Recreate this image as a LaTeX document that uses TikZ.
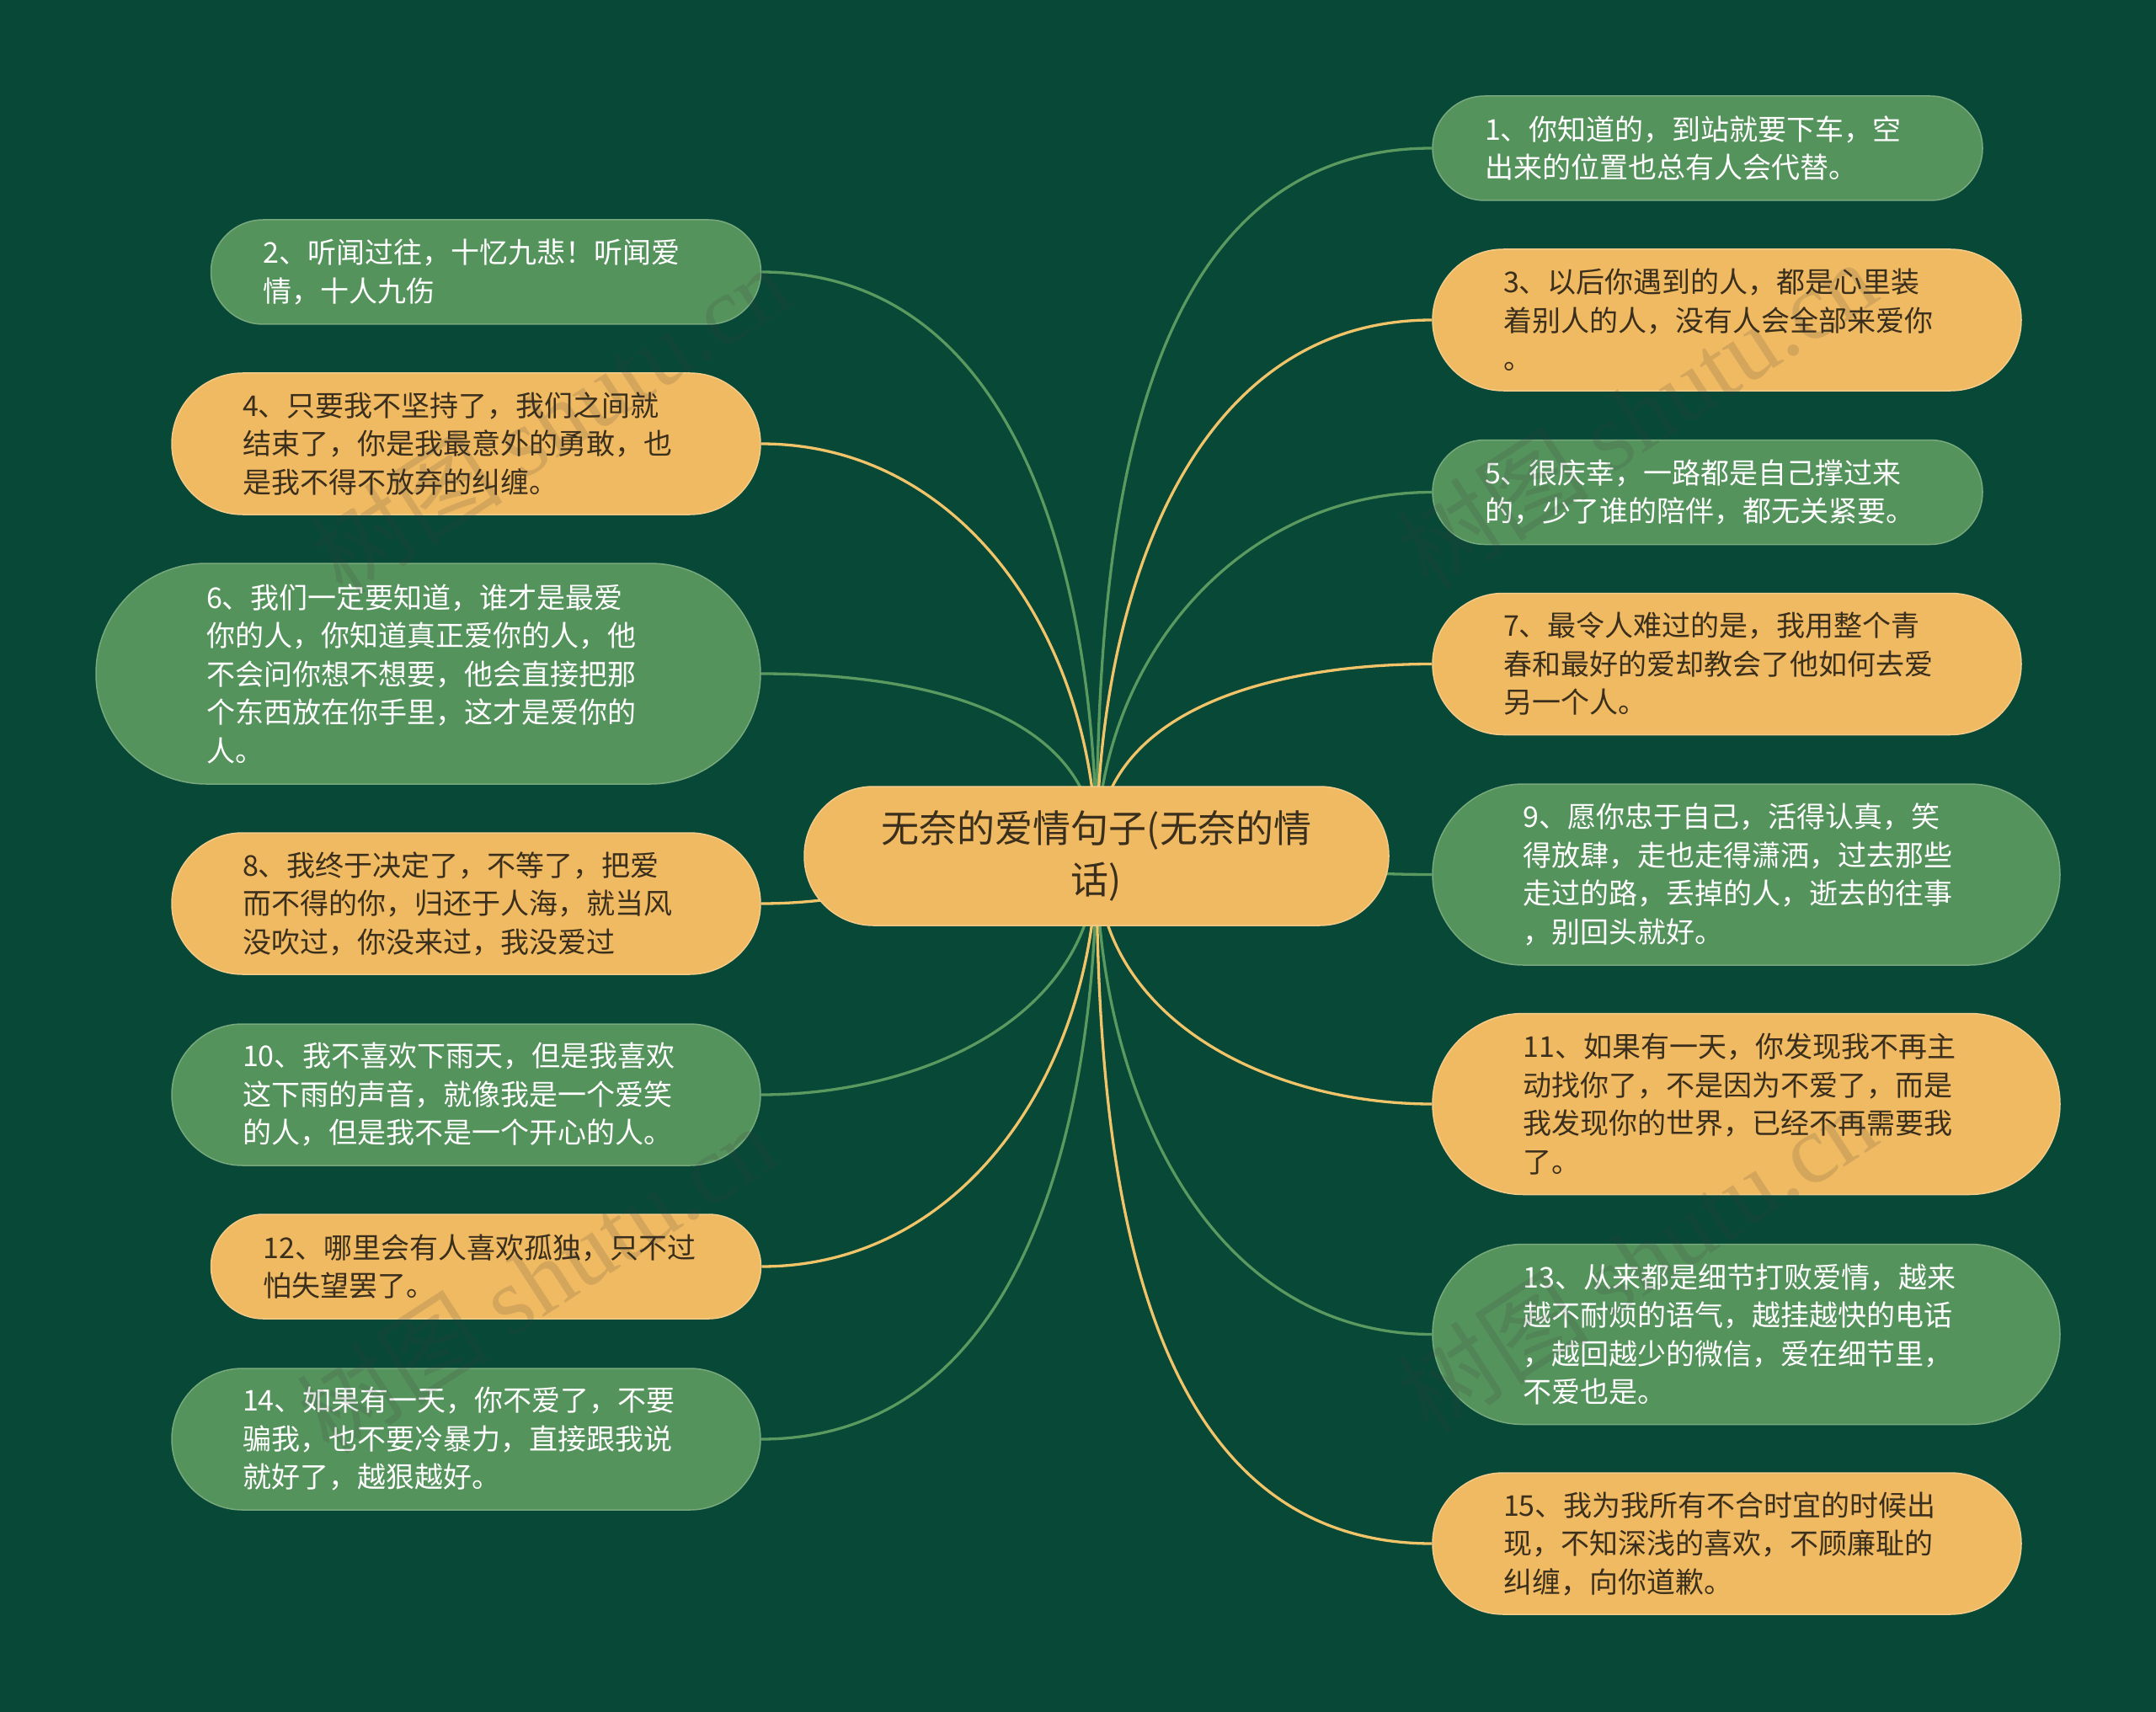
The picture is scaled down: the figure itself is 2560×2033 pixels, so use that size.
\documentclass[tikz,border=0pt]{standalone}
\usepackage{fontspec}
\setmainfont{Noto Sans CJK SC}
\newfontfamily\wmfont{Liberation Serif}
\usetikzlibrary{backgrounds}
\definecolor{bgc}{HTML}{074836}
\definecolor{gnode}{HTML}{55935C}
\definecolor{ynode}{HTML}{F0BA62}
\definecolor{gedge}{HTML}{5A9A60}
\definecolor{yedge}{HTML}{F2C46A}
\definecolor{ytext}{HTML}{3A2E1C}
\begin{document}
\begin{tikzpicture}[x=1pt,y=-1pt,
  box/.style={rectangle, align=left, inner sep=0pt, font=\fontsize{34}{45.5}\selectfont},
  pill/.style n args={4}{minimum width=#1pt, minimum height=#2pt, text width=#3pt, rounded corners=#4pt},
  gbox/.style={box, fill=gnode, draw=gnode!80!white, line width=1.5pt, text=white},
  ybox/.style={box, fill=ynode, draw=ynode!75!white, line width=1.5pt, text=ytext},
  cbox/.style={rectangle, align=center, inner sep=0pt, fill=ynode, draw=ynode!75!white, line width=1.5pt, text=ytext, font=\fontsize{45}{61}\selectfont},
  gl/.style={draw=gedge, line width=3.3pt},
  yl/.style={draw=yedge, line width=3.3pt},
  wm/.style={text=black!75, opacity=0.16, font=\fontsize{115}{115}\selectfont, rotate=33, inner sep=0pt},
]
\useasboundingbox (0,0) rectangle (2560,2033);

% central node
\node[cbox, pill={694}{165}{600}{82}] (c) at (1302,1016.5) {无奈的爱情句子(无奈的情\\话)};

% right side
\node[gbox, pill={653}{124}{529}{62}] (n1) at (2027.5,176) {1、你知道的，到站就要下车，空\\出来的位置也总有人会代替。};
\node[ybox, pill={699}{168}{531}{84}] (n3) at (2050.5,380) {3、以后你遇到的人，都是心里装\\着别人的人，没有人会全部来爱你\\。};
\node[gbox, pill={653}{124}{529}{62}] (n5) at (2027.5,584.5) {5、很庆幸，一路都是自己撑过来\\的，少了谁的陪伴，都无关紧要。};
\node[ybox, pill={699}{168}{531}{84}] (n7) at (2050.5,788.5) {7、最令人难过的是，我用整个青\\春和最好的爱却教会了他如何去爱\\另一个人。};
\node[gbox, pill={745}{215}{530}{107.5}] (n9) at (2073.5,1038.5) {9、愿你忠于自己，活得认真，笑\\得放肆，走也走得潇洒，过去那些\\走过的路，丢掉的人，逝去的往事\\，别回头就好。};
\node[ybox, pill={745}{215}{530}{107.5}] (n11) at (2073.5,1311) {11、如果有一天，你发现我不再主\\动找你了，不是因为不爱了，而是\\我发现你的世界，已经不再需要我\\了。};
\node[gbox, pill={745}{214}{530}{107}] (n13) at (2073.5,1584.5) {13、从来都是细节打败爱情，越来\\越不耐烦的语气，越挂越快的电话\\，越回越少的微信，爱在细节里，\\不爱也是。};
\node[ybox, pill={699}{168}{531}{84}] (n15) at (2050.5,1833) {15、我为我所有不合时宜的时候出\\现，不知深浅的喜欢，不顾廉耻的\\纠缠，向你道歉。};

% left side
\node[gbox, pill={653}{124}{529}{62}] (n2) at (577,323) {2、听闻过往，十忆九悲！听闻爱\\情，十人九伤};
\node[ybox, pill={699}{168}{531}{84}] (n4) at (553.5,527) {4、只要我不坚持了，我们之间就\\结束了，你是我最意外的勇敢，也\\是我不得不放弃的纠缠。};
\node[gbox, pill={789}{262}{527}{131}] (n6) at (508.5,800) {6、我们一定要知道，谁才是最爱\\你的人，你知道真正爱你的人，他\\不会问你想不想要，他会直接把那\\个东西放在你手里，这才是爱你的\\人。};
\node[ybox, pill={699}{168}{531}{84}] (n8) at (553.5,1073) {8、我终于决定了，不等了，把爱\\而不得的你，归还于人海，就当风\\没吹过，你没来过，我没爱过};
\node[gbox, pill={699}{168}{531}{84}] (n10) at (553.5,1300) {10、我不喜欢下雨天，但是我喜欢\\这下雨的声音，就像我是一个爱笑\\的人，但是我不是一个开心的人。};
\node[ybox, pill={653}{124}{529}{62}] (n12) at (577,1504) {12、哪里会有人喜欢孤独，只不过\\怕失望罢了。};
\node[gbox, pill={699}{168}{531}{84}] (n14) at (553.5,1709) {14、如果有一天，你不爱了，不要\\骗我，也不要冷暴力，直接跟我说\\就好了，越狠越好。};

\begin{scope}[on background layer]
  \fill[bgc] (0,0) rectangle (2560,2033);
  % top right
  \draw[gl] (c.center) to[out=90,in=180] (n1.west);
  \draw[yl] (c.center) to[out=90,in=180] (n3.west);
  \draw[gl] (c.center) to[out=90,in=180] (n5.west);
  \draw[yl] (c.center) to[out=90,in=180] (n7.west);
  % top left
  \draw[gl] (c.center) to[out=90,in=0] (n2.east);
  \draw[yl] (c.center) to[out=90,in=0] (n4.east);
  \draw[gl] (c.center) to[out=90,in=0] (n6.east);
  % sides
  \draw[yl] (c.center) to[out=180,in=0] (n8.east);
  \draw[gl] (c.center) to[out=0,in=180] (n9.west);
  % bottom left
  \draw[gl] (c.center) to[out=-90,in=0] (n10.east);
  \draw[yl] (c.center) to[out=-90,in=0] (n12.east);
  \draw[gl] (c.center) to[out=-90,in=0] (n14.east);
  % bottom right
  \draw[yl] (c.center) to[out=-90,in=180] (n11.west);
  \draw[gl] (c.center) to[out=-90,in=180] (n13.west);
  \draw[yl] (c.center) to[out=-90,in=180] (n15.west);
\end{scope}

% watermarks
\node[wm] (w1) at (653,498) {树图 {\wmfont shutu.cn}};
\node[wm] (w2) at (1943,492) {树图 {\wmfont shutu.cn}};
\node[wm] (w3) at (637,1518) {树图 {\wmfont shutu.cn}};
\node[wm] (w4) at (1943,1494) {树图 {\wmfont shutu.cn}};
\end{tikzpicture}
\end{document}
